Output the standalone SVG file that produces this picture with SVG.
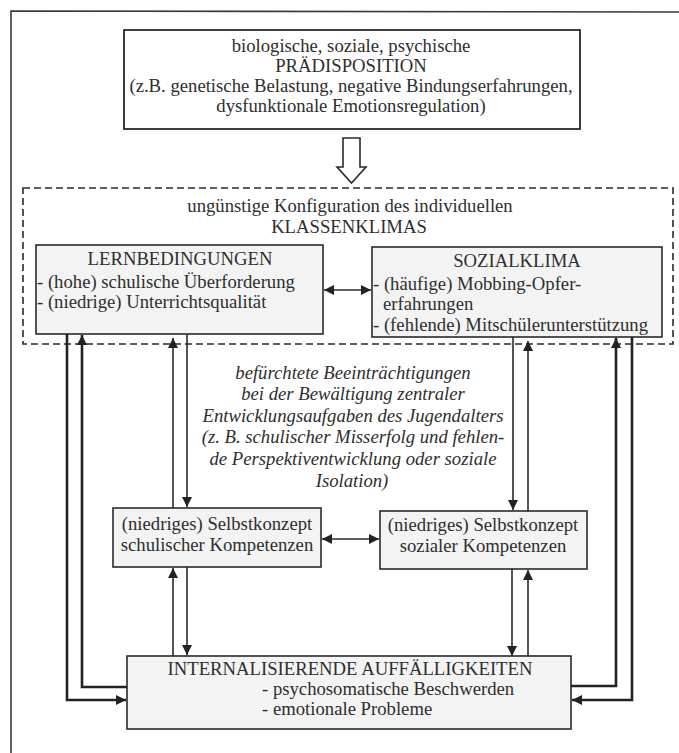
<svg xmlns="http://www.w3.org/2000/svg" width="679" height="753" viewBox="0 0 679 753">
<style>
text{font-family:"Liberation Serif","Times New Roman",serif;font-size:18.7px;fill:#2e2e2e}
.c{text-anchor:middle}
.i{font-style:italic}
.box{fill:#ffffff;stroke:#2a2a2a;stroke-width:1.8}
.gbox{fill:#f3f3f3;stroke:#2a2a2a;stroke-width:1.6}
.ln{fill:none;stroke:#2a2a2a;stroke-width:1.6}
.thick{fill:none;stroke:#222;stroke-width:2.6}
</style>
<defs>
<marker id="ah" markerUnits="userSpaceOnUse" markerWidth="11" markerHeight="10" refX="10" refY="5" orient="auto-start-reverse">
<path d="M0,0 L10,5 L0,10 z" fill="#222"/>
</marker>
</defs>
<rect width="679" height="753" fill="#ffffff"/>
<g id="frame">
<path d="M11,753 L11,11 L679,12" fill="none" stroke="#3a3a3a" stroke-width="1.6"/>
</g>
<g id="praedisposition">
<rect class="box" x="124" y="30" width="456" height="99"/>
<text class="c" x="351" y="52">biologische, soziale, psychische</text>
<text class="c" x="351" y="72">PRÄDISPOSITION</text>
<text class="c" x="351" y="92">(z.B. genetische Belastung, negative Bindungserfahrungen,</text>
<text class="c" x="351" y="112">dysfunktionale Emotionsregulation)</text>
</g>
<g id="hollow-arrow">
<polygon points="343,138 360,138 360,167 366,167 351.5,183 337,167 343,167" fill="#ffffff" stroke="#2a2a2a" stroke-width="1.6"/>
</g>
<g id="klassenklima">
<rect x="23" y="188" width="650" height="156" fill="none" stroke="#2a2a2a" stroke-width="1.6" stroke-dasharray="7 4"/>
<text class="c" x="350" y="212">ungünstige Konfiguration des individuellen</text>
<text class="c" x="349" y="233">KLASSENKLIMAS</text>
</g>
<g id="lernbedingungen">
<rect class="gbox" x="36" y="245" width="287" height="89"/>
<text class="c" x="180" y="265">LERNBEDINGUNGEN</text>
<text x="37" y="288">- (hohe) schulische Überforderung</text>
<text x="37" y="308">- (niedrige) Unterrichtsqualität</text>
</g>
<g id="sozialklima">
<rect class="gbox" x="372" y="247" width="290" height="90"/>
<text class="c" x="517" y="267">SOZIALKLIMA</text>
<text x="373" y="290">- (häufige) Mobbing-Opfer-</text>
<text x="383" y="310">erfahrungen</text>
<text x="373" y="331">- (fehlende) Mitschülerunterstützung</text>
</g>
<g id="beeintraechtigungen">
<text class="c i" x="353" y="379">befürchtete Beeinträchtigungen</text>
<text class="c i" x="353" y="400">bei der Bewältigung zentraler</text>
<text class="c i" x="353" y="422">Entwicklungsaufgaben des Jugendalters</text>
<text class="c i" x="353" y="443">(z. B. schulischer Misserfolg und fehlen-</text>
<text class="c i" x="353" y="465">de Perspektiventwicklung oder soziale</text>
<text class="c i" x="352" y="487">Isolation)</text>
</g>
<g id="selbstkonzept-schulisch">
<rect class="gbox" x="113" y="508" width="208" height="59"/>
<text class="c" x="217" y="530">(niedriges) Selbstkonzept</text>
<text class="c" x="217" y="551">schulischer Kompetenzen</text>
</g>
<g id="selbstkonzept-sozial">
<rect class="gbox" x="380" y="511" width="207" height="58"/>
<text class="c" x="483" y="531">(niedriges) Selbstkonzept</text>
<text class="c" x="483" y="552">sozialer Kompetenzen</text>
</g>
<g id="internalisierend">
<rect class="gbox" x="127" y="656" width="444" height="73"/>
<text class="c" x="350" y="675">INTERNALISIERENDE AUFFÄLLIGKEITEN</text>
<text x="262" y="695">- psychosomatische Beschwerden</text>
<text x="262" y="715">- emotionale Probleme</text>
</g>
<g id="connectors">
<line class="ln" x1="324" y1="290" x2="371" y2="290" marker-start="url(#ah)" marker-end="url(#ah)"/>
<line class="ln" x1="322" y1="539" x2="379" y2="539" marker-start="url(#ah)" marker-end="url(#ah)"/>
<line class="ln" x1="187" y1="334" x2="187" y2="507" marker-end="url(#ah)"/>
<line class="ln" x1="173" y1="508" x2="173" y2="338" marker-end="url(#ah)"/>
<line class="ln" x1="513" y1="337" x2="513" y2="510" marker-end="url(#ah)"/>
<line class="ln" x1="528" y1="511" x2="528" y2="341" marker-end="url(#ah)"/>
<line class="ln" x1="173" y1="656" x2="173" y2="568" marker-end="url(#ah)"/>
<line class="ln" x1="187" y1="567" x2="187" y2="655" marker-end="url(#ah)"/>
<line class="ln" x1="512" y1="569" x2="512" y2="656" marker-end="url(#ah)"/>
<line class="ln" x1="528" y1="656" x2="528" y2="570" marker-end="url(#ah)"/>
<path class="thick" d="M67,334 L67,700 L126,700" marker-end="url(#ah)"/>
<path class="thick" d="M127,687 L82,687 L82,335" marker-end="url(#ah)"/>
<path class="thick" d="M632,337 L632,700 L572,700" marker-end="url(#ah)"/>
<path class="thick" d="M571,686 L616,686 L616,338" marker-end="url(#ah)"/>
</g>
</svg>
